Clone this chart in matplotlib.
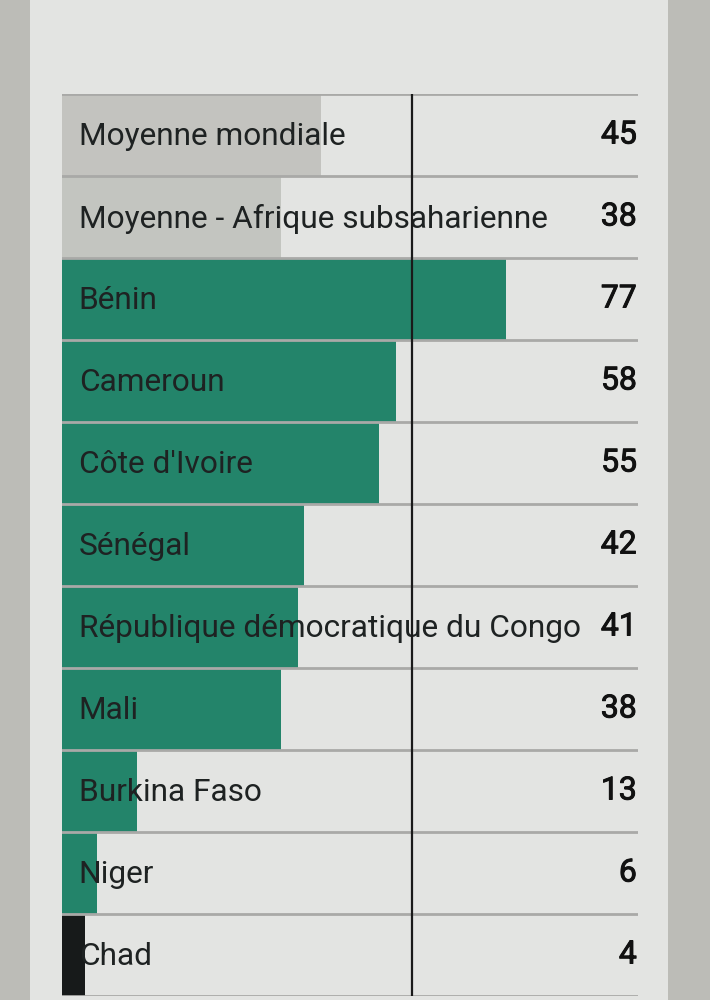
import matplotlib.pyplot as plt
import matplotlib.patches as mpatches
import matplotlib.patheffects as pe

# données
pays = ['Moyenne mondiale', 'Moyenne - Afrique subsaharienne', 'Bénin', 'Cameroun',
        "Côte d'Ivoire", 'Sénégal', 'République démocratique du Congo', 'Mali',
        'Burkina Faso', 'Niger', 'Chad']
valeurs = [45, 38, 77, 58, 55, 42, 41, 38, 13, 6, 4]
couleurs = ['#c3c3bf', '#c3c5c0'] + ['#23846a'] * 8 + ['#171a1a']
repere = 60.7

W, H = 710, 1000
fig = plt.figure(figsize=(W / 100, H / 100), dpi=100)
fig.patch.set_facecolor('#bcbcb7')
fig.patches.append(mpatches.Rectangle((30 / W, 0), 638 / W, 1, transform=fig.transFigure,
                                      facecolor='#e3e4e2', edgecolor='none', zorder=-1))

ax = fig.add_axes([62 / W, 4 / H, 576 / W, 902 / H])
ax.set_zorder(2)
ax.set_facecolor('none')
n = len(pays)
ax.set_xlim(0, 100)
ax.set_ylim(n, 0)
ax.axis('off')

ax.barh(range(n), valeurs, height=1, align='edge', color=couleurs, zorder=1)
for i in range(n + 1):
    ax.axhline(i, color='#a9a9a7', lw=2, zorder=2)

ax.plot([repere, repere], [0, n], color='#1a1a1a', lw=1.6, zorder=4)

gras = [pe.withStroke(linewidth=0.7, foreground='#111111')]
for i, (p, v) in enumerate(zip(pays, valeurs)):
    ax.text(2.9, i + 0.52, p, va='center', ha='left', fontsize=22.8, family='Roboto',
            color='#1e2222', zorder=3)
    ax.text(99.8, i + 0.5, str(v), va='center', ha='right', fontsize=23, family='Roboto',
            color='#111111', zorder=3, path_effects=gras)

fig.savefig('out.png', dpi=100, facecolor=fig.get_facecolor())
